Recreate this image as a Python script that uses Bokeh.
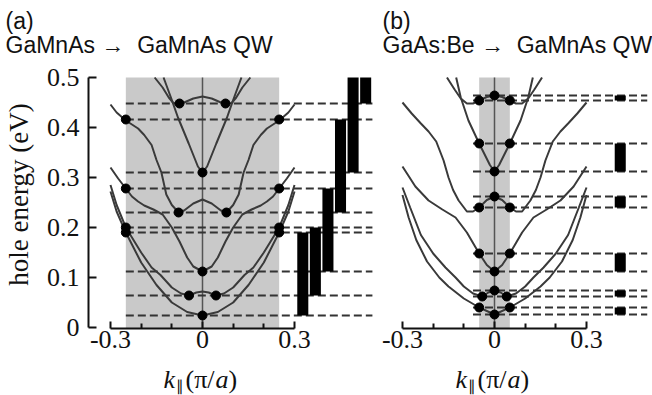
from bokeh.plotting import figure
from bokeh.models import Range1d, FixedTicker, Label
from bokeh.layouts import row, column
from bokeh.embed import file_html
from bokeh.resources import INLINE

# ---------------- data: panel (a) GaMnAs -> GaMnAs QW ----------------
# half-curves (k >= 0), mirrored about k = 0
a1_k = [0, 0.05, 0.1, 0.15, 0.2, 0.25, 0.28, 0.3]
a1_E = [0.024, 0.031, 0.05, 0.085, 0.13, 0.19, 0.232, 0.272]
a2_k = [0, 0.02, 0.044, 0.07, 0.1, 0.137, 0.166, 0.2, 0.25, 0.28, 0.3]
a2_E = [0.072, 0.070, 0.064, 0.068, 0.08, 0.105, 0.12, 0.15, 0.2, 0.245, 0.285]
a3_k = [0, 0.03, 0.05, 0.075, 0.1, 0.13, 0.16, 0.19, 0.21, 0.23, 0.25, 0.275, 0.3]
a3_E = [0.112, 0.122, 0.14, 0.172, 0.2, 0.226, 0.236, 0.244, 0.252, 0.262, 0.278, 0.298, 0.32]
a4_k = [0, 0.03, 0.06, 0.078, 0.1, 0.118, 0.134, 0.15, 0.166, 0.19, 0.21, 0.25, 0.28, 0.3]
a4_E = [0.256, 0.248, 0.234, 0.23, 0.245, 0.266, 0.31, 0.335, 0.365, 0.385, 0.398, 0.414, 0.43, 0.446]
a5_k = [0, 0.015, 0.045, 0.08, 0.1, 0.127]
a5_E = [0.31, 0.322, 0.368, 0.42, 0.455, 0.5]
a6_k = [0, 0.03, 0.06, 0.075, 0.095, 0.11, 0.13, 0.156]
a6_E = [0.462, 0.458, 0.45, 0.448, 0.449, 0.46, 0.48, 0.5]
a_bands = [(a1_k, a1_E), (a2_k, a2_E), (a3_k, a3_E), (a4_k, a4_E), (a5_k, a5_E), (a6_k, a6_E)]

a_level_E = [0.024, 0.064, 0.112, 0.19, 0.20, 0.23, 0.278, 0.31, 0.416, 0.448]
a_level_k = [0, 0.044, 0, 0.25, 0.25, 0.078, 0.25, 0, 0.25, 0.075]
a_bar_lo = [0.024, 0.064, 0.112, 0.23, 0.31, 0.448]
a_bar_hi = [0.19, 0.20, 0.278, 0.416, 0.50, 0.50]
a_window = 0.25

# ---------------- data: panel (b) GaAs:Be -> GaMnAs QW ----------------
b1_k = [0, 0.05, 0.1, 0.15, 0.18, 0.22, 0.255, 0.28, 0.3]
b1_E = [0.026, 0.04, 0.058, 0.082, 0.1, 0.132, 0.175, 0.22, 0.265]
b2_k = [0, 0.02, 0.04, 0.07, 0.1, 0.127, 0.16, 0.2, 0.24, 0.275, 0.3]
b2_E = [0.074, 0.07, 0.062, 0.068, 0.082, 0.1, 0.12, 0.148, 0.185, 0.24, 0.28]
b3_k = [0, 0.025, 0.05, 0.09, 0.127, 0.17, 0.215, 0.258, 0.3]
b3_E = [0.112, 0.125, 0.148, 0.19, 0.22, 0.236, 0.254, 0.282, 0.322]
b4_k = [0, 0.025, 0.05, 0.07, 0.09, 0.117, 0.135, 0.15, 0.166, 0.19, 0.215, 0.24, 0.27, 0.3]
b4_E = [0.262, 0.255, 0.24, 0.232, 0.232, 0.254, 0.275, 0.3, 0.334, 0.372, 0.392, 0.408, 0.428, 0.45]
b5_k = [0, 0.015, 0.05, 0.085, 0.11, 0.125]
b5_E = [0.312, 0.325, 0.368, 0.414, 0.46, 0.5]
b6_k = [0, 0.025, 0.05, 0.07, 0.09, 0.11, 0.13, 0.155]
b6_E = [0.464, 0.461, 0.454, 0.448, 0.448, 0.458, 0.476, 0.5]
b_bands = [(b1_k, b1_E), (b2_k, b2_E), (b3_k, b3_E), (b4_k, b4_E), (b5_k, b5_E), (b6_k, b6_E)]

b_level_E = [0.026, 0.04, 0.062, 0.074, 0.112, 0.148, 0.24, 0.262, 0.312, 0.368, 0.454, 0.464]
b_level_k = [0, 0.05, 0.04, 0, 0, 0.05, 0.05, 0, 0, 0.05, 0.05, 0]
b_bar_lo = [0.026, 0.062, 0.112, 0.24, 0.312, 0.454]
b_bar_hi = [0.04, 0.074, 0.148, 0.262, 0.368, 0.464]
b_window = 0.05

x_ticks = [-0.3, 0, 0.3]
x_minor = [-0.2, -0.1, 0.1, 0.2]
y_ticks = [0, 0.1, 0.2, 0.3, 0.4, 0.5]

# ---------------- styling / layout ----------------
PX = 306.7     # pixels per unit k
PE = 500.0     # pixels per eV
TOP_H = 60     # title strip height
FRAME_H = 328 - TOP_H  # plot frame: pixel rows 60..328
AX_H = 34      # room under the frame for tick labels
MID_H = FRAME_H + AX_H
BOT_H = 395 - TOP_H - MID_H
SERIF = "Liberation Serif"
SANS = "Liberation Sans"
CURVE = "#3a3a3a"
DASH = "#333333"
GRAY = "#c9c9c9"
INK = "#111111"

E_TOP = (327 - TOP_H) / PE
E_BOT = (327 - (TOP_H + FRAME_H)) / PE


def mirror(k, E):
    return [-v for v in k[::-1]] + k[1:], E[::-1] + E[1:]


def dots(levels_k, levels_E):
    xs, ys = [], []
    for kk, ee in zip(levels_k, levels_E):
        if kk == 0:
            xs.append(0); ys.append(ee)
        else:
            xs += [-kk, kk]; ys += [ee, ee]
    return xs, ys


def strip(height):
    p = figure(width=652, height=height, x_range=Range1d(0, 652), y_range=Range1d(height, 0),
               output_backend="svg", toolbar_location=None, title=None,
               min_border_left=0, min_border_right=0, min_border_top=0, min_border_bottom=0,
               outline_line_color=None, x_axis_location=None, y_axis_location=None)
    p.grid.visible = False
    return p


def make_panel(width, xr, left_border, show_y):
    p = figure(width=width, height=MID_H, x_range=xr, y_range=Range1d(E_BOT, E_TOP),
               output_backend="svg", toolbar_location=None, title=None,
               min_border_left=left_border, min_border_right=0, min_border_top=0,
               min_border_bottom=AX_H, outline_line_color=None,
               y_axis_location="left" if show_y else None)
    p.grid.visible = False
    xa = p.xaxis[0]
    xa.bounds = (-0.3, 0.3)
    xa.ticker = FixedTicker(ticks=x_ticks, minor_ticks=x_minor)
    xa.major_label_overrides = {-0.3: "-0.3", 0: "0", 0.3: "0.3"}
    xa.major_tick_in = 7
    xa.major_tick_out = 0
    xa.minor_tick_in = 5
    xa.minor_tick_out = 0
    xa.axis_line_width = 2
    xa.major_tick_line_width = 2
    xa.minor_tick_line_width = 2
    xa.axis_line_color = INK
    xa.major_tick_line_color = INK
    xa.minor_tick_line_color = INK
    xa.major_label_text_font = SERIF
    xa.major_label_text_font_size = "26px"
    xa.major_label_text_color = INK
    xa.major_label_standoff = 2
    if show_y:
        ya = p.yaxis[0]
        ya.bounds = (0, 0.5)
        ya.ticker = FixedTicker(ticks=y_ticks, minor_ticks=[])
        ya.major_label_overrides = {0: "0", 0.1: "0.1", 0.2: "0.2", 0.3: "0.3", 0.4: "0.4", 0.5: "0.5"}
        ya.major_tick_in = 8
        ya.major_tick_out = 0
        ya.axis_line_width = 2
        ya.major_tick_line_width = 2
        ya.axis_line_color = INK
        ya.major_tick_line_color = INK
        ya.major_label_text_font = SERIF
        ya.major_label_text_font_size = "26px"
        ya.major_label_text_color = INK
        ya.major_label_standoff = 9
        ya.axis_label = "hole energy (eV)"
        ya.axis_label_text_font = SERIF
        ya.axis_label_text_font_size = "27px"
        ya.axis_label_text_font_style = "normal"
        ya.axis_label_text_color = INK
        ya.axis_label_standoff = 10
    return p


def draw(p, bands, level_k, level_E, window, dash_x0, dash_x1, bar_lo, bar_hi, bar_x0, bar_dx):
    p.quad(left=[-window], right=[window], bottom=[E_BOT], top=[0.5],
           fill_color=GRAY, line_color=None)
    p.segment(x0=[0], x1=[0], y0=[E_BOT], y1=[0.5], line_color="#555555", line_width=1.5)
    n = len(level_E)
    p.segment(x0=[dash_x0] * n, x1=[dash_x1] * n, y0=level_E, y1=level_E,
              line_color=DASH, line_width=2, line_dash="8 4")
    for k, E in bands:
        xs, ys = mirror(k, E)
        p.line(xs, ys, line_color=CURVE, line_width=2)
    dx, dy = dots(level_k, level_E)
    p.scatter(dx, dy, size=9, fill_color="black", line_color="black")
    bx = [bar_x0 + bar_dx * i for i in range(len(bar_lo))]
    p.vbar(x=bx, width=0.036, bottom=bar_lo, top=bar_hi, fill_color="black", line_color=None)


def txt(p, x, y_mid, text, font, size, style="normal"):
    # y_mid: vertical centre of the text line, in strip pixels
    p.add_layout(Label(x=x, y=y_mid, text=text, text_font=font, text_font_size=size,
                       text_font_style=style, text_color=INK,
                       text_baseline="middle", text_align="left"))


ARROW = "\u00a0\u2192\u00a0\u00a0"

# ---- title strip ----
top = strip(TOP_H)
txt(top, 5, 20, "(a)", SANS, "23px")
txt(top, 5, 44, "GaMnAs" + ARROW + "GaMnAs QW", SANS, "23px")
txt(top, 382, 20, "(b)", SANS, "23px")
txt(top, 382, 44, "GaAs:Be" + ARROW + "GaMnAs QW", SANS, "23px")

# ---- panel (a): frame 88..380 px, k = 0 at 202 px ----
pa = make_panel(380, Range1d((88 - 202) / PX, (380 - 202) / PX), 88, True)
draw(pa, a_bands, a_level_k, a_level_E, a_window, -0.25, 0.554,
     a_bar_lo, a_bar_hi, 0.327, 0.041)

# ---- panel (b): frame 380..652 px, k = 0 at 494 px ----
pb = make_panel(272, Range1d((380 - 494) / PX, (652 - 494) / PX), 0, False)
draw(pb, b_bands, b_level_k, b_level_E, b_window, -0.07, 0.498,
     b_bar_lo, b_bar_hi, 0.41, 0.0)

# ---- x-axis label strip ----
bot = strip(BOT_H)
mid = 379 - (TOP_H + MID_H)
for zero_px in (202, 494):
    txt(bot, zero_px - 39, mid, "k", SERIF, "26px", "italic")
    txt(bot, zero_px - 27, mid + 6, "\u2225", SERIF, "15px")
    txt(bot, zero_px - 17, mid, "(\u03c0/", SERIF, "26px")
    txt(bot, zero_px + 13, mid, "a", SERIF, "26px", "italic")
    txt(bot, zero_px + 26, mid, ")", SERIF, "26px")

layout = column(top, row(pa, pb), bot)
open("out.html", "w").write(file_html(layout, INLINE))
